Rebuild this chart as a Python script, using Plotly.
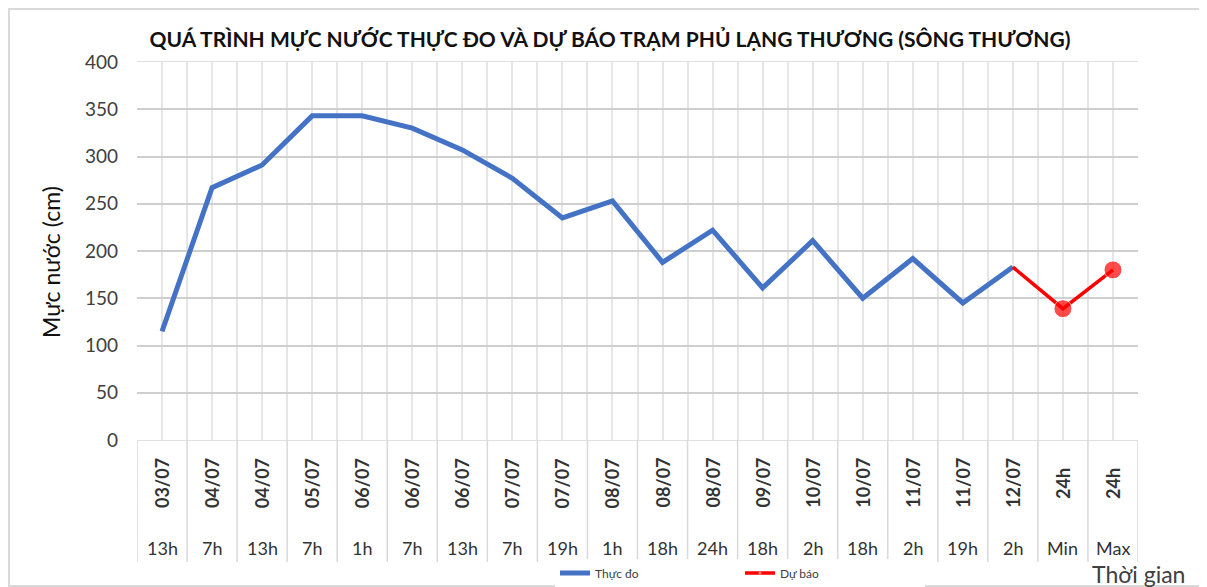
import plotly.graph_objects as go

dates = ["03/07", "04/07", "04/07", "05/07", "06/07", "06/07", "06/07", "07/07", "07/07",
         "08/07", "08/07", "08/07", "09/07", "10/07", "10/07", "11/07", "11/07", "12/07",
         "24h", "24h"]
hours = ["13h", "7h", "13h", "7h", "1h", "7h", "13h", "7h", "19h", "1h", "18h", "24h",
         "18h", "2h", "18h", "2h", "19h", "2h", "Min", "Max"]
observed = [115, 267, 291, 343, 343, 330, 307, 277, 235, 253, 188, 222, 161, 211, 150,
            192, 145, 183, None, None]
forecast = [None] * 17 + [183, 139, 180]
y_ticks = [0, 50, 100, 150, 200, 250, 300, 350, 400]

idx = list(range(len(dates)))
marker_sizes = [0 if (v is None or i < len(forecast) - 2) else 18
                for i, v in enumerate(forecast)]

FONT = "Lato"
OFF = 8  # page body offset
W, H = 1207 - OFF, 587 - OFF
L, T, PW, PH = 137 - OFF, 62 - OFF, 1001, 378
B = H - T - PH
R = W - L - PW

def py(pix):  # reference pixel y -> paper y
    return (440 - pix) / 378

def px(pix):  # reference pixel x -> paper x
    return (pix - 137) / 1001

fig = go.Figure()
fig.add_trace(go.Scatter(x=idx, y=observed, mode="lines", name="Thực đo",
                         line=dict(color="#4472C4", width=5)))
fig.add_trace(go.Scatter(x=idx, y=forecast, mode="lines+markers", name="Dự báo",
                         line=dict(color="#FF0000", width=3.5),
                         marker=dict(size=marker_sizes, color="#FF0000")))

shapes = []
for i in range(len(idx) + 1):
    shapes.append(dict(type="line", xref="x", yref="paper", x0=i - 0.5, x1=i - 0.5,
                       y0=0, y1=py(562), line=dict(color="#d9d9d9", width=1.5)))
shapes.append(dict(type="rect", xref="paper", yref="paper",
                   x0=px(OFF + 1), x1=px(OFF + W - 2),
                   y0=py(OFF + H - 1), y1=py(OFF + 1),
                   line=dict(color="#d9d9d9", width=2)))

annotations = []
for i, (d, h) in enumerate(zip(dates, hours)):
    annotations.append(dict(x=i, y=py(483), xref="x", yref="paper",
                            text="<b>" + d + "</b>", yanchor="middle", xanchor="center",
                            textangle=-90, showarrow=False,
                            font=dict(family=FONT, size=18, color="#333333")))
    annotations.append(dict(x=i, y=py(548), xref="x", yref="paper", text=h,
                            showarrow=False, yanchor="middle", xanchor="center",
                            font=dict(family=FONT, size=18, color="#333333")))
annotations.append(dict(x=px(1187), y=py(574), xref="paper", yanchor="middle",
                        yref="paper", text="Thời gian", showarrow=False, xanchor="right",
                        font=dict(family=FONT, size=23, color="#404040")))
annotations.append(dict(x=px(51), y=py(262), xref="paper", yref="paper",
                        text="Mực nước (cm)", textangle=-90, showarrow=False,
                        xanchor="center", yanchor="middle",
                        font=dict(family=FONT, size=23, color="#111111")))

fig.update_layout(
    width=W, height=H,
    margin=dict(l=L, r=R, t=T, b=B, autoexpand=False),
    paper_bgcolor="white", plot_bgcolor="white",
    title=dict(text="<b>QUÁ TRÌNH MỰC NƯỚC THỰC ĐO VÀ DỰ BÁO TRẠM PHỦ LẠNG THƯƠNG (SÔNG THƯƠNG)</b>",
               x=(610 - OFF) / W, xanchor="center", y=1 - (40 - OFF) / H, yanchor="middle",
               font=dict(family=FONT, size=21, color="#111111")),
    xaxis=dict(range=[-0.5, len(idx) - 0.5], tick0=-0.5, dtick=0.5, showticklabels=False,
               showgrid=True, gridcolor="#e6e6e6", gridwidth=1.5, zeroline=False,
               showline=True, linecolor="#e0e0e0", mirror=True),
    yaxis=dict(range=[0, 400], tickvals=y_ticks, showgrid=True, gridcolor="#cfcfcf",
               gridwidth=1.5, zeroline=False, showline=False,
               tickfont=dict(family=FONT, size=19, color="#404040"),
               ticklabelstandoff=18),
    legend=dict(orientation="h", x=px(555), xanchor="left",
                y=py(573), yanchor="middle",
                font=dict(family=FONT, size=12, color="#404040"),
                entrywidth=140, entrywidthmode="pixels", tracegroupgap=0),
    shapes=shapes, annotations=annotations, showlegend=True,
)
fig.write_html("out.html")
